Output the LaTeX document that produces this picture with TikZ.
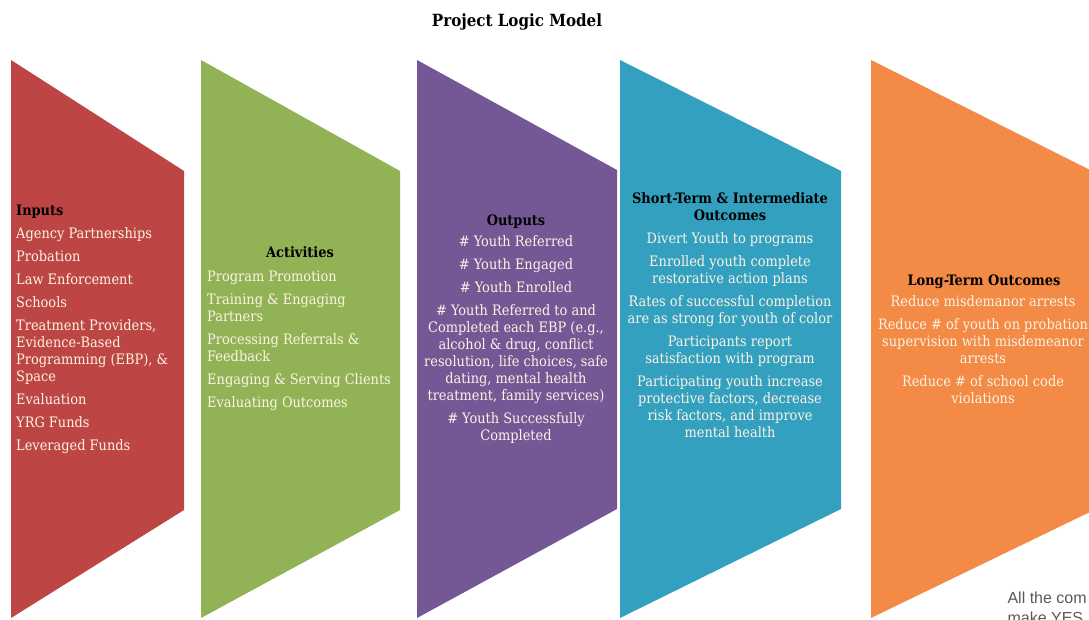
\documentclass[tikz,border=0pt]{standalone}
\usepackage{fontspec}
\setmainfont{DejaVu Serif Condensed}
\newfontfamily\notefont{Liberation Sans}
\definecolor{inred}{HTML}{BD4543}
\definecolor{actgreen}{HTML}{91B355}
\definecolor{outpurple}{HTML}{745795}
\definecolor{stblue}{HTML}{33A0C0}
\definecolor{ltorange}{HTML}{F38A45}
\definecolor{cream}{HTML}{FBF3E4}
\tikzset{
  head/.style={font=\fontsize{14.4}{17}\selectfont\bfseries, text=black, inner sep=0pt},
  items/.style={font=\fontsize{14.4}{17}\selectfont, text=cream, inner sep=0pt},
}
\begin{document}
\begin{tikzpicture}[x=1pt,y=-1pt]
\useasboundingbox (0,0) rectangle (1089,620);

% Title
\node (title) [font=\fontsize{16.8}{20}\selectfont\bfseries, anchor=base] at (517,27) {Project Logic Model};

% Drawing band Inputs
\fill [inred] (11,60) -- (184,171) -- (184,510) -- (11,618) -- cycle;
% Drawing band Activities
\fill [actgreen] (201,60) -- (400,171) -- (400,510) -- (201,618) -- cycle;
% Drawing band Outputs
\fill [outpurple] (417,60) -- (617,170) -- (617,509) -- (417,618) -- cycle;
% Drawing band Short-Term
\fill [stblue] (620,60) -- (841,171) -- (841,509) -- (620,618) -- cycle;
% Drawing band Long-Term
\fill [ltorange] (871,60) -- (1092,171) -- (1092,511) -- (871,618) -- cycle;

% Marking Inputs (anchored at the last line)
\node (inputs-head) [head, anchor=base west] at (16,216) {Inputs};
\node (inputs) [items, anchor=base west, align=left] at (16,450) {Agency Partnerships\\[6pt]
  Probation\\[6pt]
  Law Enforcement\\[6pt]
  Schools\\[6pt]
  Treatment Providers,\\Evidence-Based\\Programming (EBP), \&\\Space\\[6pt]
  Evaluation\\[6pt]
  YRG Funds\\[6pt]
  Leveraged Funds};

% Marking Activities
\node (activities-head) [head, anchor=base] at (300,258) {Activities};
\node (activities) [items, anchor=base west, align=left] at (207,407) {Program Promotion\\[6pt]
  Training \& Engaging\\Partners\\[6pt]
  Processing Referrals \&\\Feedback\\[6pt]
  Engaging \& Serving Clients\\[6pt]
  Evaluating Outcomes};

% Marking Outputs
\node (outputs-head) [head, anchor=base] at (516,226) {Outputs};
\node (outputs) [items, anchor=base, align=center] at (516,440) {\# Youth Referred\\[6pt]
  \# Youth Engaged\\[6pt]
  \# Youth Enrolled\\[6pt]
  \# Youth Referred to and\\Completed each EBP (e.g.,\\alcohol \& drug, conflict\\resolution, life choices, safe\\dating, mental health\\treatment, family services)\\[6pt]
  \# Youth Successfully\\Completed};

% Marking Short-Term & Intermediate Outcomes
\node (short-head) [head, anchor=base, align=center] at (730,221) {Short-Term \& Intermediate\\Outcomes};
\node (short) [items, anchor=base, align=center] at (730,437) {Divert Youth to programs\\[6pt]
  Enrolled youth complete\\restorative action plans\\[6pt]
  Rates of successful completion\\are as strong for youth of color\\[6pt]
  Participants report\\satisfaction with program\\[6pt]
  Participating youth increase\\protective factors, decrease\\risk factors, and improve\\mental health};

% Marking Long-Term Outcomes
\node (long-head) [head, anchor=base] at (984,285) {Long-Term Outcomes};
\node (long) [items, anchor=base, align=center] at (983,403) {Reduce misdemanor arrests\\[6pt]
  Reduce \# of youth on probation\\supervision with misdemeanor\\arrests\\[6pt]
  Reduce \# of school code\\violations};

% Marking note
\node (note) [font=\notefont\fontsize{16}{20}\selectfont, text=black!65, anchor=base west, align=left] at (1004,623) {All the com\\make YES};
\end{tikzpicture}
\end{document}
